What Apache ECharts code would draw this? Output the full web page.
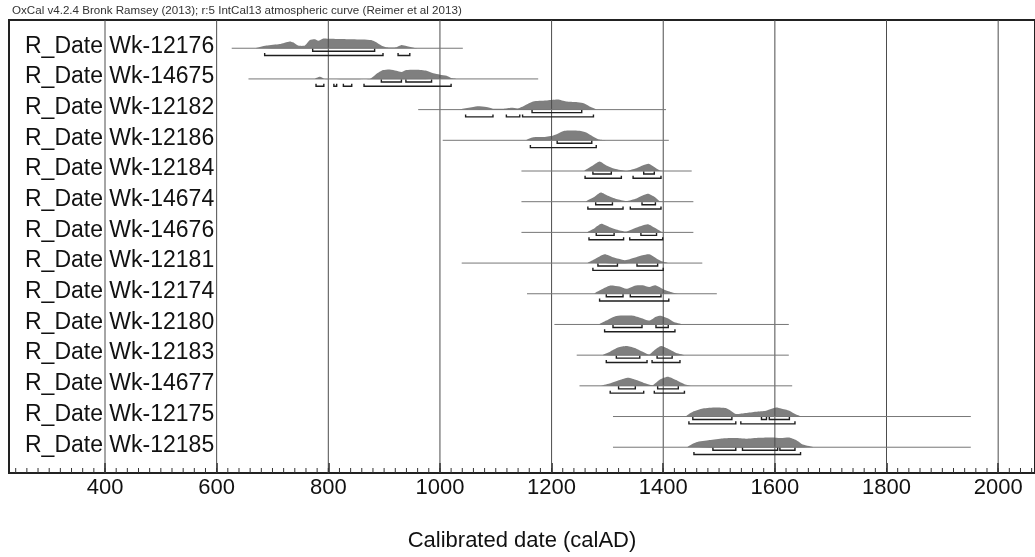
<!DOCTYPE html>
<html>
<head>
<meta charset="utf-8">
<script src="https://cdn.jsdelivr.net/npm/echarts@6/dist/echarts.min.js"></script>
<style>
  html, body { margin: 0; padding: 0; background: #fff; }
  #chart { width: 1035px; height: 557px; }
</style>
</head>
<body>
<div id="chart"></div>
<script>
// sample names, top to bottom
const labels = [
  'R_Date Wk-12176', 'R_Date Wk-14675', 'R_Date Wk-12182', 'R_Date Wk-12186',
  'R_Date Wk-12184', 'R_Date Wk-14674', 'R_Date Wk-14676', 'R_Date Wk-12181',
  'R_Date Wk-12174', 'R_Date Wk-12180', 'R_Date Wk-12183', 'R_Date Wk-14677',
  'R_Date Wk-12175', 'R_Date Wk-12185'
]

// thin line under each distribution (calAD)
const rangeStart = [627, 657, 961, 1005, 1146, 1146, 1146, 1039, 1156, 1205, 1245, 1250, 1310, 1310]
const rangeEnd = [1041, 1176, 1405, 1410, 1451, 1454, 1454, 1470, 1496, 1625, 1625, 1631, 1951, 1951]

// posterior densities, [calAD, relative height]
const densWk12176 = [[671, 0], [689, 2.7], [713, 4.3], [731, 7], [737, 6], [746, 2.7], [758, 2.7], [767, 8.3], [776, 9.3], [782, 7.7], [791, 10], [803, 9.7], [832, 9.3], [862, 9], [877, 8.3], [886, 6], [895, 2.7], [904, 1], [922, 1], [931, 3.3], [940, 2.3], [955, 0.3], [964, 0]]
const densWk14675 = [[776, 0], [785, 2.3], [794, 0], [874, 0], [886, 5], [898, 9], [910, 9.7], [922, 8.3], [931, 7], [940, 9], [958, 9.3], [976, 8.3], [988, 5.7], [1000, 4.3], [1012, 3.3], [1020, 1], [1029, 0]]
const densWk12182 = [[1035, 0], [1065, 3.3], [1083, 2.7], [1095, 1], [1113, 1], [1128, 2], [1140, 1.3], [1152, 4.3], [1167, 8.3], [1190, 9.3], [1211, 10.3], [1226, 8.3], [1244, 7.7], [1256, 6.7], [1268, 3.3], [1280, 0]]
const densWk12186 = [[1155, 0], [1167, 3], [1184, 3.3], [1202, 4.7], [1211, 6.7], [1223, 9.7], [1250, 9.7], [1262, 8], [1274, 4], [1286, 0.7], [1298, 0]]
const densWk12184 = [[1259, 0], [1274, 5.7], [1286, 9.7], [1298, 5.7], [1313, 2.3], [1334, 0.3], [1349, 2.3], [1363, 5.7], [1374, 7.3], [1384, 4], [1393, 0.7], [1399, 0]]
const densWk14674 = [[1262, 0], [1277, 5], [1288, 9.3], [1301, 6], [1316, 2.7], [1334, 0.7], [1352, 3.3], [1372, 8], [1384, 5], [1393, 0.7], [1399, 0]]
const densWk14676 = [[1264, 0], [1277, 4.3], [1289, 8.7], [1304, 5.3], [1322, 2], [1334, 1], [1349, 4.3], [1372, 8.3], [1384, 5], [1396, 1], [1402, 0]]
const densWk12181 = [[1265, 0], [1277, 4], [1295, 9], [1310, 6], [1331, 3], [1340, 4], [1363, 8], [1375, 9], [1390, 4], [1399, 1.5], [1408, 0]]
const densWk12174 = [[1277, 0], [1289, 4.3], [1304, 8.3], [1322, 7.3], [1334, 5], [1349, 8.3], [1363, 8.7], [1375, 7], [1386, 8.7], [1396, 6], [1408, 2.7], [1423, 0.3], [1435, 0]]
const densWk12180 = [[1286, 0], [1298, 4], [1316, 8.7], [1346, 9], [1360, 6.7], [1375, 4], [1387, 8], [1396, 9], [1408, 6.3], [1420, 2.3], [1435, 0]]
const densWk12183 = [[1292, 0], [1304, 3.3], [1319, 7.7], [1334, 9.3], [1349, 7.3], [1366, 2.7], [1375, 0.7], [1384, 5], [1396, 9.3], [1408, 6.7], [1423, 2.3], [1438, 0]]
const densWk14677 = [[1289, 0], [1304, 2.3], [1322, 6], [1337, 8.3], [1352, 6], [1369, 2.3], [1381, 0.7], [1393, 6], [1408, 9.3], [1423, 6], [1438, 1.7], [1450, 0]]
const densWk12175 = [[1441, 0], [1453, 5], [1471, 8.3], [1494, 9.3], [1512, 8.7], [1521, 6], [1530, 2.7], [1548, 3.7], [1566, 5], [1584, 6], [1602, 9.3], [1611, 8.3], [1626, 6], [1638, 2], [1647, 0]]
const densWk12185 = [[1444, 0], [1459, 5], [1483, 7.3], [1507, 9], [1530, 9.3], [1548, 8.7], [1572, 9.7], [1596, 10], [1611, 9.3], [1626, 10], [1638, 7.3], [1650, 2.7], [1668, 0]]
const densities = [densWk12176, densWk14675, densWk12182, densWk12186, densWk12184, densWk14674, densWk14676,
  densWk12181, densWk12174, densWk12180, densWk12183, densWk14677, densWk12175, densWk12185]

// 68.2% and 95.4% probability ranges, [from, to]
const hpd68 = [
  [[772, 883]],
  [[895, 931], [939, 985]],
  [[1165, 1254]],
  [[1210, 1272]],
  [[1274, 1307], [1365, 1384]],
  [[1279, 1309], [1362, 1386]],
  [[1280, 1312], [1360, 1388]],
  [[1283, 1318], [1353, 1390]],
  [[1298, 1328], [1341, 1396]],
  [[1310, 1362], [1387, 1409]],
  [[1316, 1358], [1389, 1416]],
  [[1320, 1350], [1390, 1427]],
  [[1453, 1523], [1576, 1585], [1590, 1626]],
  [[1489, 1530], [1542, 1605], [1609, 1636]]
]
const hpd95 = [
  [[686, 898], [925, 946]],
  [[778, 792], [810, 815], [827, 842], [864, 1020]],
  [[1046, 1095], [1119, 1143], [1148, 1275]],
  [[1162, 1280]],
  [[1260, 1325], [1346, 1396]],
  [[1265, 1328], [1341, 1396]],
  [[1267, 1329], [1340, 1399]],
  [[1274, 1400]],
  [[1286, 1410]],
  [[1295, 1421]],
  [[1298, 1371], [1380, 1430]],
  [[1305, 1365], [1384, 1438]],
  [[1446, 1530], [1539, 1636]],
  [[1455, 1646]]
]

const majorTicks = [400, 600, 800, 1000, 1200, 1400, 1600, 1800, 2000]
const minorTicks = []
for (let v = 240; v <= 2060; v += 20) minorTicks.push(v)

const xMin = 228
const xMax = 2066
const yMax = 14.76
// row 0 sits at the top
const rowBase = i => 13.84 - i
const hScale = 1 / 31.36
const font = 'Liberation Sans, Arial, sans-serif'

const chart = echarts.init(document.getElementById('chart'))

function renderDensity(params, api) {
  const i = params.dataIndex
  const pts = densities[i].map(p => api.coord([p[0], rowBase(i) + p[1] * hScale]))
  return {
    type: 'polygon',
    shape: { points: pts, smooth: 0.2 },
    style: { fill: '#7f7f7f' }
  }
}

function renderRange(params, api) {
  const a = api.coord([api.value(0), api.value(2)])
  const b = api.coord([api.value(1), api.value(2)])
  return {
    type: 'line',
    shape: { x1: a[0], y1: a[1], x2: b[0], y2: b[1] },
    style: { stroke: '#777', lineWidth: 1 }
  }
}

function renderBracket(params, api) {
  const a = api.coord([api.value(0), api.value(2)])
  const b = api.coord([api.value(1), api.value(2)])
  const y = a[1] + (api.value(3) === 68 ? 3 : 7.3)
  return {
    type: 'polyline',
    shape: { points: [[a[0], y - 2.5], [a[0], y], [b[0], y], [b[0], y - 2.5]] },
    style: { stroke: '#1e1e1e', lineWidth: 1.4, fill: null }
  }
}

function renderGrid(params, api) {
  const a = api.coord([api.value(0), 0])
  const b = api.coord([api.value(0), yMax])
  return {
    type: 'line',
    shape: { x1: a[0], y1: a[1], x2: b[0], y2: b[1] },
    style: { stroke: '#4d4d4d', lineWidth: 1 }
  }
}

function renderMinorTick(params, api) {
  const a = api.coord([api.value(0), 0])
  return {
    type: 'line',
    shape: { x1: a[0], y1: a[1], x2: a[0], y2: a[1] - 5 },
    style: { stroke: '#333', lineWidth: 1 }
  }
}

function renderLabel(params, api) {
  const p = api.coord([xMin, api.value(1)])
  return {
    type: 'text',
    x: p[0] + 16,
    y: p[1] - 2,
    style: {
      text: labels[params.dataIndex],
      fontFamily: font,
      fontSize: 23,
      fill: '#111',
      verticalAlign: 'middle'
    }
  }
}

const rangeData = labels.map((l, i) => [rangeStart[i], rangeEnd[i], rowBase(i)])
const bracketData = []
hpd68.forEach((rs, i) => rs.forEach(r => bracketData.push([r[0], r[1], rowBase(i), 68])))
hpd95.forEach((rs, i) => rs.forEach(r => bracketData.push([r[0], r[1], rowBase(i), 95])))

const option = {
  animation: false,
  title: {
    text: 'OxCal v4.2.4 Bronk Ramsey (2013); r:5 IntCal13 atmospheric curve (Reimer et al 2013)',
    left: 7,
    top: 0,
    textStyle: { fontFamily: font, fontSize: 11.6, fontWeight: 'normal', color: '#333' }
  },
  grid: {
    left: 9,
    right: -1,
    top: 20,
    bottom: 74,
    show: true,
    borderColor: '#222',
    borderWidth: 2
  },
  xAxis: {
    type: 'value',
    min: xMin,
    max: xMax,
    name: 'Calibrated date (calAD)',
    nameLocation: 'middle',
    nameGap: 57,
    nameTextStyle: { fontFamily: font, fontSize: 22, color: '#111' },
    axisLine: { lineStyle: { color: '#222', width: 2 } },
    axisTick: { show: true, inside: true, length: 10, customValues: majorTicks, lineStyle: { color: '#222', width: 1.5 } },
    axisLabel: {
      customValues: majorTicks,
      formatter: v => String(v),
      fontFamily: font,
      fontSize: 22,
      color: '#111',
      margin: 4
    },
    splitLine: { show: false }
  },
  yAxis: { type: 'value', min: 0, max: yMax, show: false },
  series: [
    {
      type: 'custom',
      z: 2,
      renderItem: renderDensity,
      data: labels.map((l, i) => [rangeStart[i], rowBase(i)]),
      silent: true
    },
    {
      type: 'custom',
      z: 3,
      renderItem: renderGrid,
      data: majorTicks.map(v => [v, 0]),
      silent: true
    },
    {
      type: 'custom',
      z: 3,
      renderItem: renderMinorTick,
      data: minorTicks.map(v => [v, 0]),
      silent: true
    },
    {
      type: 'custom',
      z: 4,
      renderItem: renderRange,
      encode: { x: [0, 1], y: 2 },
      data: rangeData,
      silent: true
    },
    {
      type: 'custom',
      z: 5,
      renderItem: renderBracket,
      encode: { x: [0, 1], y: 2 },
      data: bracketData,
      silent: true
    },
    {
      type: 'custom',
      z: 6,
      renderItem: renderLabel,
      data: labels.map((l, i) => [xMin, rowBase(i)]),
      silent: true
    }
  ]
}

chart.setOption(option)
</script>
</body>
</html>
